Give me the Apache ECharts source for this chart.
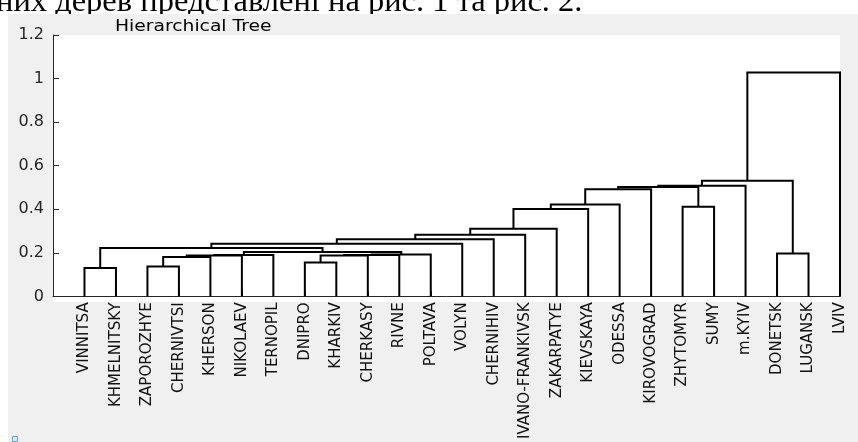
<!DOCTYPE html>
<html>
<head>
<meta charset="utf-8">
<script src="https://cdn.jsdelivr.net/npm/echarts/dist/echarts.min.js"></script>
<style>
html,body{margin:0;padding:0;background:#fff;}
#chart{width:858px;height:442px;}
</style>
</head>
<body>
<div id="chart"></div>
<script>
// Leaf labels in dendrogram order
const leafNames = ['VINNITSA','KHMELNITSKY','ZAPOROZHYE','CHERNIVTSI','KHERSON','NIKOLAEV','TERNOPIL','DNIPRO','KHARKIV','CHERKASY','RIVNE','POLTAVA','VOLYN','CHERNIHIV','IVANO-FRANKIVSK','ZAKARPATYE','KIEVSKAYA','ODESSA','KIROVOGRAD','ZHYTOMYR','SUMY','m.KYIV','DONETSK','LUGANSK','LVIV'];
// Linkage: node ids 1..25 are leaves, merge row i creates node 25+i+1
const mergeLeft   = [1, 3, 8, 27, 29, 28, 30, 31, 33, 23, 32, 26, 37, 38, 39, 40, 41, 20, 42, 44, 45, 46, 47, 48];
const mergeRight  = [2, 4, 9, 5, 6, 10, 7, 11, 12, 24, 34, 36, 13, 14, 15, 16, 17, 21, 18, 19, 43, 22, 35, 25];
const mergeHeight = [0.130, 0.137, 0.156, 0.181, 0.187, 0.188, 0.190, 0.190, 0.192, 0.197, 0.204, 0.222, 0.242, 0.262, 0.283, 0.310, 0.401, 0.411, 0.422, 0.492, 0.502, 0.508, 0.531, 1.028];
const yTickValues = [0, 0.2, 0.4, 0.6, 0.8, 1, 1.2];
const titleText = 'Hierarchical Tree';
const docText = 'них дерев представлені на рис. 1 та рис. 2.';

const nodeX = {}, nodeH = {};
leafNames.forEach((n, i) => { nodeX[i + 1] = i + 1; nodeH[i + 1] = 0; });
const links = mergeLeft.map((l, i) => {
  const id = leafNames.length + 1 + i;
  const r = mergeRight[i];
  const h = mergeHeight[i];
  nodeX[id] = (nodeX[l] + nodeX[r]) / 2;
  nodeH[id] = h;
  return [nodeX[l], nodeH[l], nodeX[r], nodeH[r], h];
});

const chart = echarts.init(document.getElementById('chart'), null, {renderer: 'canvas'});
const axisColor = '#262626';
chart.setOption({
  backgroundColor: '#ffffff',
  animation: false,
  graphic: [
    {type: 'text', x: -4, y: -14, z: -11, silent: true,
     style: {text: docText, font: '32.5px "Liberation Serif"', fill: '#000', align: 'left', verticalAlign: 'top'}},
    {type: 'rect', x: 8, y: 14, z: -10, silent: true, shape: {width: 850, height: 428}, style: {fill: '#f0f0f0'}},
    {type: 'rect', x: 53, y: 35, z: -9, silent: true, shape: {width: 787, height: 267}, style: {fill: '#ffffff'}},
    {type: 'text', x: 115, y: 26.5, z: 10, scaleX: 1.17, silent: true,
     style: {text: titleText, font: '16px "DejaVu Sans"', fill: '#000', align: 'left', verticalAlign: 'middle'}},
    {type: 'rect', x: 12.5, y: 436.5, z: 10, silent: true, shape: {width: 5, height: 5}, style: {fill: '#dde9f6', stroke: '#6a9fd4', lineWidth: 1}}
  ],
  grid: {left: 53, right: 18, top: 35, bottom: 140, containLabel: false},
  xAxis: {
    type: 'value', min: 0, max: leafNames.length, interval: 1,
    axisLine: {show: true, lineStyle: {color: axisColor, width: 1}},
    axisTick: {show: true, inside: true, length: 5, lineStyle: {color: axisColor}},
    splitLine: {show: false},
    axisLabel: {
      rotate: 90, margin: 6, showMinLabel: true, showMaxLabel: true,
      fontFamily: 'DejaVu Sans', fontSize: 15, color: '#111',
      padding: [0, 0, 16, 0],
      formatter: v => leafNames[Math.round(v) - 1] || ''
    }
  },
  yAxis: {
    type: 'value', min: yTickValues[0], max: yTickValues[yTickValues.length - 1], interval: 0.2,
    axisLine: {show: true, lineStyle: {color: axisColor, width: 1}},
    axisTick: {show: true, inside: true, length: 6, lineStyle: {color: axisColor}},
    splitLine: {show: false},
    axisLabel: {fontFamily: 'DejaVu Sans', fontSize: 16, color: axisColor, margin: 9}
  },
  series: [{
    type: 'custom',
    clip: false,
    data: links,
    encode: {x: [0, 2], y: [1, 3, 4]},
    renderItem: (params, api) => {
      const p1 = api.coord([api.value(0), api.value(1)]);
      const p2 = api.coord([api.value(0), api.value(4)]);
      const p3 = api.coord([api.value(2), api.value(4)]);
      const p4 = api.coord([api.value(2), api.value(3)]);
      return {
        type: 'polyline',
        shape: {points: [p1, p2, p3, p4]},
        style: {stroke: '#000', lineWidth: 2, fill: null}
      };
    }
  }]
});
</script>
</body>
</html>
